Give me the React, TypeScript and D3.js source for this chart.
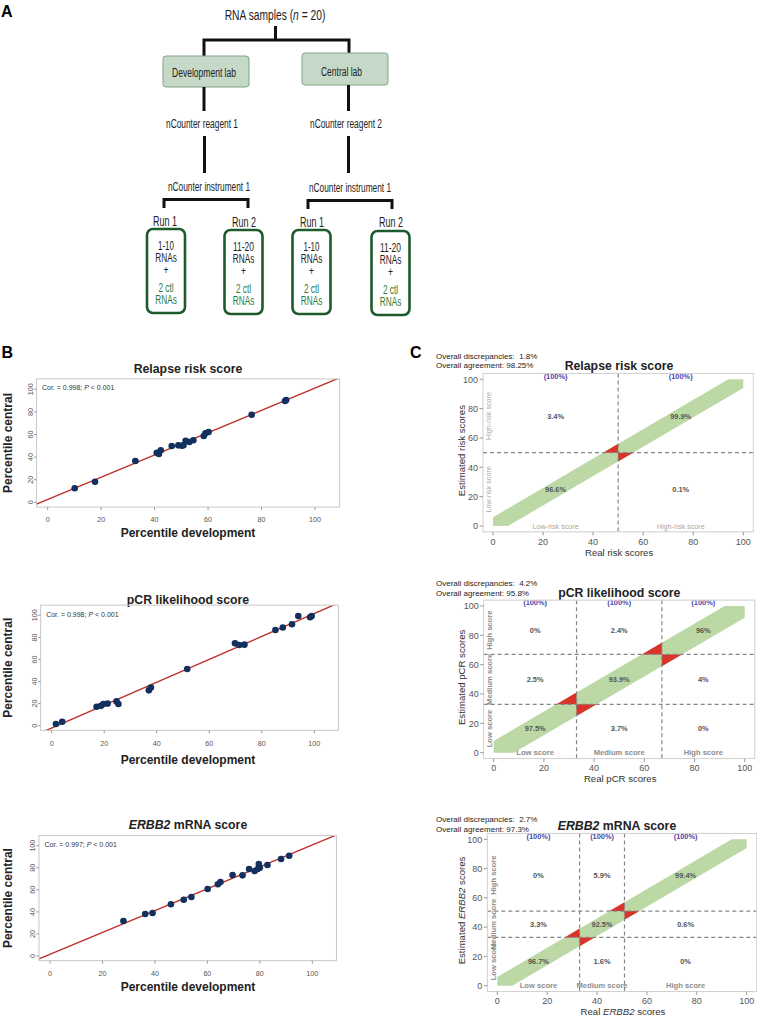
import React from 'react';
import * as d3 from 'd3';

// ---------- Panel B data (percentile development vs central) ----------
const relapseDev = [10.1, 17.7, 32.8, 40.8, 41.6, 42.3, 46.4, 48.9, 50.2, 50.8, 51.6, 53, 54.5, 58.4, 59, 60.2, 76.3, 88.8, 89.2];
const relapseCen = [12.4, 18.2, 36.5, 43.9, 42.7, 46, 49.8, 50.4, 50, 50.5, 54.5, 53.3, 54.9, 58.7, 61, 62.2, 77.5, 89.6, 90.5];
const pcrDev = [1.6, 4.0, 17.1, 18.8, 19.7, 21.3, 24.7, 25.4, 37, 37.8, 51.6, 69.8, 71.4, 73.4, 85.2, 88, 91.5, 93.9, 98.4, 99];
const pcrCen = [1.5, 3.6, 17.2, 18, 19.7, 20, 22, 19.7, 32, 34.5, 51.4, 74.6, 73.1, 73.4, 86.7, 89, 91.9, 99.4, 98.2, 99.3];
const erbbDev = [28, 36.3, 39.1, 46.1, 51, 53.9, 60.1, 64, 65, 69.6, 73.4, 75.9, 78, 79.2, 79.6, 80, 82.9, 88.1, 91.2];
const erbbCen = [31.7, 38.1, 39, 46.9, 51, 53.5, 60.7, 65, 67, 73.4, 73.1, 78.9, 77, 78.9, 83.4, 80, 82.5, 87.9, 90.9];
const fitIntercepts = [2.5, -2.1, 1.56];
const fitSlopes = [0.986, 1.037, 0.991];
const corValues = ['0.998', '0.998', '0.997'];
const axisTicks = [0, 20, 40, 60, 80, 100];

// ---------- Panel C data ----------
const relapseThresholds = [50];
const pcrThresholds = [33, 67];
const erbbThresholds = [33, 51];
const bandHalfWidths = [6, 8, 6];
// rows from low estimated (bottom) to high (top); columns low -> high real
const relapseCells = [['96.6%', '0.1%'], ['3.4%', '99.9%']];
const pcrCells = [['97.5%', '3.7%', '0%'], ['2.5%', '93.9%', '4%'], ['0%', '2.4%', '96%']];
const erbbCells = [['96.7%', '1.6%', '0%'], ['3.3%', '92.5%', '0.6%'], ['0%', '5.9%', '99.4%']];
const relapseCats = ['Low-risk score', 'High-risk score'];
const scoreCats = ['Low score', 'Medium score', 'High score'];
const discrepancies = ['1.8%', '4.2%', '2.7%'];
const agreements = ['98.25%', '95.8%', '97.3%'];
const columnTotals = '(100%)';

const FONT = "'Liberation Sans', Arial, Helvetica, sans-serif";

// ---------- Panel A ----------
function NT({ x, y, len, size, fill = '#222', children, weight = 'normal' }: any) {
  return (
    <text x={x} y={y} fontSize={size} fill={fill} textAnchor="middle" fontWeight={weight}
      textLength={len} lengthAdjust="spacingAndGlyphs" fontFamily={FONT}>{children}</text>
  );
}

function RunBox({ cx, top, first }: any) {
  const w = 38, h = 84;
  return (
    <g>
      <rect x={cx - w / 2} y={top} width={w} height={h} rx={6} ry={6} fill="#fff" stroke="#1d5b2c" strokeWidth={2.6} />
      <NT x={cx} y={top + 21} len={first === '1-10' ? 16 : 21} size={12.5}>{first}</NT>
      <NT x={cx} y={top + 33} len={21.5} size={12.5}>RNAs</NT>
      <NT x={cx} y={top + 45} len={5} size={12.5}>+</NT>
      <NT x={cx} y={top + 63} len={15} size={12.5} fill="#2f7a36">2 ctl</NT>
      <NT x={cx} y={top + 75} len={21.5} size={12.5} fill="#2f7a36">RNAs</NT>
    </g>
  );
}

function PanelA() {
  const st = { stroke: '#111', strokeWidth: 3, fill: 'none' };
  return (
    <g>
      <text x={1} y={17} fontSize={16} fontWeight="bold" fontFamily={FONT}>A</text>
      <text transform="translate(275,20) scale(0.684,1)" fontSize={15} textAnchor="middle" fontFamily={FONT} fill="#222">
        RNA samples (<tspan fontStyle="italic">n</tspan> = 20)
      </text>
      <path d="M275.5,26 V40 M204,40 H349 M204,38.5 V56 M349,38.5 V53" {...st} />
      <rect x={163} y={56} width={86} height={31} rx={3} fill="#c6d9c8" stroke="#7ea585" strokeWidth={1} />
      <NT x={204} y={76.5} len={64} size={12.5}>Development lab</NT>
      <rect x={302} y={53} width={86} height={32} rx={3} fill="#c6d9c8" stroke="#7ea585" strokeWidth={1} />
      <NT x={341.5} y={75.5} len={41} size={12.5}>Central lab</NT>
      <path d="M204,87 V111 M204.5,136 V173 M348.5,85 V111 M348.5,136 V173" {...st} />
      <NT x={202} y={128} len={72} size={12}>nCounter reagent 1</NT>
      <NT x={346} y={128} len={72} size={12}>nCounter reagent 2</NT>
      <NT x={209} y={191} len={82} size={12}>nCounter instrument 1</NT>
      <NT x={350} y={192} len={82} size={12}>nCounter instrument 1</NT>
      <path d="M164,208 V199.5 H248 V208 M308,209 V200.5 H392 V209" {...st} />
      <NT x={165} y={226} len={24} size={14}>Run 1</NT>
      <NT x={244} y={226.5} len={24} size={14}>Run 2</NT>
      <NT x={312} y={226.5} len={24} size={14}>Run 1</NT>
      <NT x={391} y={227} len={24} size={14}>Run 2</NT>
      <RunBox cx={166} top={229} first="1-10" />
      <RunBox cx={243.5} top={230} first="11-20" />
      <RunBox cx={311.5} top={230} first="1-10" />
      <RunBox cx={390.5} top={231} first="11-20" />
    </g>
  );
}

// ---------- Panel B ----------
const bConfigs = [
  { id: 'b1', dev: relapseDev, cen: relapseCen, x0: 47.7, x100: 315, y0: 502.3, y100: 389.3, titleY: 372.5, xlabY: 536.5, title: <tspan>Relapse risk score</tspan> },
  { id: 'b2', dev: pcrDev, cen: pcrCen, x0: 51.7, x100: 314.3, y0: 725.7, y100: 615.3, titleY: 603.5, xlabY: 763.5, title: <tspan>pCR likelihood score</tspan> },
  { id: 'b3', dev: erbbDev, cen: erbbCen, x0: 50, x100: 312.3, y0: 956, y100: 845.7, titleY: 828.5, xlabY: 990.5, title: <><tspan fontStyle="italic">ERBB2</tspan><tspan> mRNA score</tspan></> },
];

function Scatter({ cfg, i }: any) {
  const x = d3.scaleLinear().domain([0, 100]).range([cfg.x0, cfg.x100]);
  const y = d3.scaleLinear().domain([0, 100]).range([cfg.y0, cfg.y100]);
  const L = x(-4.2), R = x(109.2), T = y(109.2), B = y(-4.2);
  const a = fitIntercepts[i], b = fitSlopes[i];
  const lineGen = d3.line<number>().x((u) => x(u)).y((u) => y(a + b * u));
  const pts = d3.zip(cfg.dev, cfg.cen) as [number, number][];
  return (
    <g fontFamily={FONT}>
      <defs>
        <clipPath id={`clip-${cfg.id}`}><rect x={L} y={T} width={R - L} height={B - T} /></clipPath>
      </defs>
      <text x={188} y={cfg.titleY} fontSize={12.3} fontWeight="bold" textAnchor="middle" fill="#222">{cfg.title}</text>
      <path d={lineGen([-4.2, 109.2]) || ''} stroke="#c0302a" strokeWidth={1.4} fill="none" clipPath={`url(#clip-${cfg.id})`} />
      {pts.map(([u, v], k) => (
        <circle key={k} cx={x(u)} cy={y(v)} r={3.3} fill="#12305e" />
      ))}
      <rect x={L} y={T} width={R - L} height={B - T} fill="none" stroke="#c8c8c8" strokeWidth={1} />
      {axisTicks.map((t) => (
        <g key={`x${t}`}>
          <line x1={x(t)} x2={x(t)} y1={B} y2={B + 3} stroke="#999" />
          <text x={x(t)} y={cfg.y0 + 20} fontSize={7.2} textAnchor="middle" fill="#555">{t}</text>
        </g>
      ))}
      {axisTicks.map((t) => (
        <g key={`y${t}`}>
          <line x1={L - 2.5} x2={L} y1={y(t)} y2={y(t)} stroke="#999" />
          <text transform={`translate(${L - 3.5},${y(t)}) rotate(-90)`} fontSize={7.2} textAnchor="middle" fill="#555">{t}</text>
        </g>
      ))}
      <text x={L + 5.5} y={T + 11.5} fontSize={7} fill="#333">
        Cor. = {corValues[i]};  <tspan fontStyle="italic">P</tspan> &lt; 0.001
      </text>
      <text x={188} y={cfg.xlabY} fontSize={12} fontWeight="bold" textAnchor="middle" fill="#222">Percentile development</text>
      <text transform={`translate(11.5,${(T + B) / 2}) rotate(-90)`} fontSize={12} fontWeight="bold" textAnchor="middle" fill="#222">Percentile central</text>
    </g>
  );
}

// ---------- Panel C ----------
const cConfigs = [
  {
    id: 'c1', thr: relapseThresholds, cells: relapseCells, cats: relapseCats, catStyle: { fill: '#a8a8a8', weight: 'normal', size: 7.2 },
    x0: 493, x100: 743.3, y0: 526, y100: 379.3, titleX: 619, discY: 358.5,
    title: <tspan>Relapse risk score</tspan>, xlab: <tspan>Real risk scores</tspan>, ylab: <tspan>Estimated risk scores</tspan>,
  },
  {
    id: 'c2', thr: pcrThresholds, cells: pcrCells, cats: scoreCats, catStyle: { fill: '#8c8c8c', weight: 'bold', size: 7.6 },
    x0: 493.7, x100: 744.7, y0: 752.7, y100: 606, titleX: 619.3, discY: 586,
    title: <tspan>pCR likelihood score</tspan>, xlab: <tspan>Real pCR scores</tspan>, ylab: <tspan>Estimated pCR scores</tspan>,
  },
  {
    id: 'c3', thr: erbbThresholds, cells: erbbCells, cats: scoreCats, catStyle: { fill: '#8c8c8c', weight: 'bold', size: 7.6 },
    x0: 497.3, x100: 746.7, y0: 985.7, y100: 839.3, titleX: 617, discY: 822,
    title: <><tspan fontStyle="italic">ERBB2</tspan><tspan> mRNA score</tspan></>,
    xlab: <><tspan>Real </tspan><tspan fontStyle="italic">ERBB2</tspan><tspan> scores</tspan></>,
    ylab: <><tspan>Estimated </tspan><tspan fontStyle="italic">ERBB2</tspan><tspan> scores</tspan></>,
  },
];

function Agreement({ cfg, i }: any) {
  const x = d3.scaleLinear().domain([0, 100]).range([cfg.x0, cfg.x100]);
  const y = d3.scaleLinear().domain([0, 100]).range([cfg.y0, cfg.y100]);
  const L = x(-4), R = x(104), T = y(104), B = y(-4);
  const w = bandHalfWidths[i];
  const poly = (p: number[][]) => (d3.line()(p.map(([u, v]) => [x(u), y(v)] as [number, number])) || '') + 'Z';
  const band = poly([[0, 0], [w, 0], [100, 100 - w], [100, 100], [100 - w, 100], [0, w]]);
  const bins = [0, ...cfg.thr, 100];
  const centers = bins.slice(0, -1).map((b0: number, k: number) => (b0 + bins[k + 1]) / 2);
  const cs = cfg.catStyle;
  return (
    <g fontFamily={FONT}>
      <defs>
        <clipPath id={`clip-${cfg.id}`}><rect x={L} y={T} width={R - L} height={B - T} /></clipPath>
      </defs>
      <text x={436} y={cfg.discY} fontSize={8} fill="#222" style={{ whiteSpace: 'pre' }}>{`Overall discrepancies:  ${discrepancies[i]}`}</text>
      <text x={436} y={cfg.discY + 9.5} fontSize={8} fill="#222">{`Overall agreement: ${agreements[i]}`}</text>
      <text x={cfg.titleX} y={cfg.y100 - 9.5} fontSize={12.3} fontWeight="bold" textAnchor="middle" fill="#222">{cfg.title}</text>
      <g clipPath={`url(#clip-${cfg.id})`}>
        <path d={band} fill="#bcd9a5" />
        {cfg.thr.map((t: number) => (
          <g key={t}>
            <path d={poly([[t - w, t], [t, t], [t, t + w]])} fill="#d9332a" />
            <path d={poly([[t, t - w], [t + w, t], [t, t]])} fill="#d9332a" />
          </g>
        ))}
        {cfg.thr.map((t: number) => (
          <g key={`d${t}`}>
            <line x1={x(t)} x2={x(t)} y1={T} y2={B} stroke="#858585" strokeWidth={1.2} strokeDasharray="4,3" />
            <line x1={L} x2={R} y1={y(t)} y2={y(t)} stroke="#858585" strokeWidth={1.2} strokeDasharray="4,3" />
          </g>
        ))}
        {cfg.cells.map((row: string[], r: number) => row.map((v: string, c: number) => (
          <text key={`${r}-${c}`} x={x(centers[c])} y={y(centers[r]) + 2.6} fontSize={7.4} fontWeight="bold" textAnchor="middle" fill="#555">{v}</text>
        )))}
        {centers.map((c: number, k: number) => (
          <text key={`t${k}`} x={x(c)} y={y(102.2) + 2.6} fontSize={7.4} fontWeight="bold" textAnchor="middle" fill="#4a45a8">{columnTotals}</text>
        ))}
        {centers.map((c: number, k: number) => (
          <text key={`bx${k}`} x={x(c)} y={y(0) + 2.5} fontSize={cs.size} fontWeight={cs.weight} textAnchor="middle" fill={cs.fill}>{cfg.cats[k]}</text>
        ))}
        {centers.map((c: number, k: number) => (
          <text key={`by${k}`} transform={`translate(${L + 8.5},${y(c)}) rotate(-90)`} fontSize={cs.size} fontWeight={cs.weight} textAnchor="middle" fill={cs.fill}>{cfg.cats[k]}</text>
        ))}
      </g>
      <rect x={L} y={T} width={R - L} height={B - T} fill="none" stroke="#cfcfcf" strokeWidth={1} />
      {axisTicks.map((t) => (
        <g key={`x${t}`}>
          <line x1={x(t)} x2={x(t)} y1={B} y2={B + 3.5} stroke="#999" />
          <text x={x(t)} y={cfg.y0 + 18.5} fontSize={9} textAnchor="middle" fill="#555">{t}</text>
        </g>
      ))}
      {axisTicks.map((t) => (
        <g key={`y${t}`}>
          <line x1={L - 3.5} x2={L} y1={y(t)} y2={y(t)} stroke="#999" />
          <text x={L - 5} y={y(t) + 3.2} fontSize={9} textAnchor="end" fill="#555">{t}</text>
        </g>
      ))}
      <text x={(cfg.x0 + cfg.x100) / 2 + 1} y={cfg.y0 + 29.5} fontSize={9.6} textAnchor="middle" fill="#333">{cfg.xlab}</text>
      <text transform={`translate(465,${(T + B) / 2 - 2}) rotate(-90)`} fontSize={9.6} textAnchor="middle" fill="#333">{cfg.ylab}</text>
    </g>
  );
}

export default function App() {
  return (
    <svg width={757} height={1018} viewBox="0 0 757 1018" style={{ position: 'absolute', left: 0, top: 0, background: '#fff' }}>
      <rect width={757} height={1018} fill="#fff" />
      <PanelA />
      <text x={1.5} y={358} fontSize={16} fontWeight="bold" fontFamily={FONT}>B</text>
      <text x={410} y={358} fontSize={16} fontWeight="bold" fontFamily={FONT}>C</text>
      {bConfigs.map((c, i) => <Scatter key={c.id} cfg={c} i={i} />)}
      {cConfigs.map((c, i) => <Agreement key={c.id} cfg={c} i={i} />)}
    </svg>
  );
}
